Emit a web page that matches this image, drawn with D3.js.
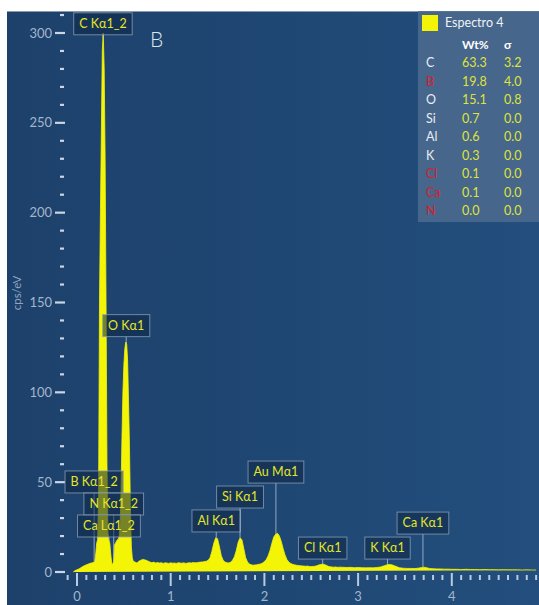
<!DOCTYPE html>
<html><head><meta charset="utf-8">
<script src="https://cdn.jsdelivr.net/npm/d3@7"></script>
<style>
html,body{margin:0;padding:0;background:#fff;}
svg{display:block;font-family:"Lato","Open Sans",sans-serif;}
</style></head>
<body>
<svg id="chart" width="539" height="605"></svg>
<script>
// ---------- DATA ----------
// spectrum: energy (keV) and counts (cps/eV)
const energy = [-0.04,-0.02,0.00,0.03,0.06,0.09,0.12,0.15,0.17,0.19,0.20,0.21,0.22,0.23,0.24,0.25,0.26,0.27,0.28,0.29,0.30,0.31,0.32,0.33,0.34,0.35,0.36,0.37,0.38,0.39,0.40,0.41,0.42,0.43,0.44,0.45,0.46,0.47,0.48,0.49,0.50,0.51,0.52,0.53,0.54,0.55,0.56,0.57,0.58,0.59,0.60,0.62,0.64,0.66,0.68,0.70,0.72,0.74,0.76,0.78,0.80,0.82,0.84,0.86,0.88,0.90,0.92,0.94,0.96,0.98,1.00,1.02,1.04,1.06,1.08,1.10,1.12,1.14,1.16,1.18,1.20,1.22,1.24,1.26,1.28,1.30,1.32,1.34,1.36,1.38,1.40,1.42,1.44,1.46,1.48,1.50,1.52,1.54,1.56,1.58,1.60,1.62,1.64,1.66,1.68,1.70,1.72,1.74,1.76,1.78,1.80,1.82,1.84,1.86,1.88,1.90,1.92,1.94,1.96,1.98,2.00,2.02,2.04,2.06,2.08,2.10,2.12,2.14,2.16,2.18,2.20,2.22,2.24,2.26,2.28,2.30,2.32,2.34,2.36,2.38,2.40,2.42,2.44,2.46,2.48,2.50,2.52,2.54,2.56,2.58,2.60,2.62,2.64,2.66,2.68,2.70,2.72,2.74,2.76,2.78,2.80,2.84,2.88,2.92,2.96,3.00,3.04,3.08,3.12,3.16,3.20,3.24,3.28,3.32,3.36,3.40,3.44,3.48,3.52,3.56,3.60,3.64,3.68,3.70,3.72,3.76,3.80,3.84,3.88,3.92,3.96,4.00,4.05,4.10,4.15,4.20,4.25,4.30,4.35,4.40,4.45,4.50,4.55,4.60,4.65,4.70,4.75,4.80,4.85,4.90,4.95];
const counts = [0,0.8,1.2,2,3,3.8,4.4,5,5.2,6,10,16,18,40,150,200,245,290,300,280,230,150,60,22,18,16,10,5,4,6,15,16,17,18,18,20,26,45,75,100,115,124,128,127,118,95,70,35,14,8,6,5.5,5,6,6.5,7,6.8,6.5,6,5.5,5.2,5.5,5,5.3,5,5.2,4.8,5.1,5,4.8,5.1,4.9,5,4.8,5.2,5,4.9,5.1,4.8,5,5.2,5,5.3,5.1,5.2,5.4,5.5,5.6,5.8,6,6.5,8,11.5,16,19,18.5,14,9,6.5,5.5,5.2,5,5.5,6.5,8.5,12,16.5,19,18,13,8,5.5,4.5,4,3.8,3.9,4,4.3,4.5,5,5.8,7,9,12,16,19.5,21,21.5,20,17,13,9.5,7,5.5,4.8,4.3,4,3.8,3.6,3.5,3.4,3.3,3.2,3.3,3.1,3,3.1,3.2,3.5,3.9,4.2,4.4,4.2,3.7,3.2,2.9,2.8,2.7,2.8,2.6,2.7,2.6,2.5,2.6,2.4,2.5,2.4,2.3,2.4,2.3,2.5,2.8,3.5,4.2,4,3.2,2.4,2.1,2,2,1.9,2.1,2.5,2.7,2.5,2,1.8,1.7,1.7,1.6,1.6,1.5,1.5,1.4,1.5,1.4,1.4,1.3,1.4,1.3,1.3,1.2,1.3,1.2,1.2,1.2,1.1,1.2,1.1,1.1];

// peak annotations
const peakNames    = ["C K\u03b11_2","O K\u03b11","B K\u03b11_2","N K\u03b11_2","Ca L\u03b11_2","Al K\u03b11","Si K\u03b11","Au M\u03b11","Cl K\u03b11","K K\u03b11","Ca K\u03b11"];
const peakEnergies = [0.277,0.525,0.183,0.392,0.341,1.486,1.740,2.123,2.622,3.314,3.692];
const labelLevels  = [299,131,44,31.7,19.5,22.3,35.6,49.5,7.2,7.2,21.1]; // cps of label box bottom

// quantification table
const elements = ["C","B","O","Si","Al","K","Cl","Ca","N"];
const wtPct    = ["63.3","19.8","15.1","0.7","0.6","0.3","0.1","0.1","0.0"];
const sigma    = ["3.2","4.0","0.8","0.0","0.0","0.0","0.0","0.0","0.0"];
const flagged  = [false,true,false,false,false,false,true,true,true];
const seriesName = "Espectro 4";
const panelLetter = "B";

// axes
const yMajor = [0,50,100,150,200,250,300];
const yMinor = d3.range(0,311,10);
const xMajor = [0,1,2,3,4];
const xMinor = d3.range(-1,50).map(d=>d/10);

// ---------- DRAW ----------
const svg = d3.select("#chart");
const W = 539, H = 605;
const defs = svg.append("defs");
const grad = defs.append("linearGradient").attr("id","bg").attr("x1","0").attr("x2","1").attr("y1","0").attr("y2","0");
grad.append("stop").attr("offset","0").attr("stop-color","#1d416b");
grad.append("stop").attr("offset","0.5").attr("stop-color","#1f4773");
grad.append("stop").attr("offset","1").attr("stop-color","#234e7d");
defs.append("clipPath").attr("id","clip").append("rect").attr("x",7).attr("y",11).attr("width",W-7).attr("height",H-11);

svg.append("rect").attr("x",7).attr("y",11).attr("width",W-7).attr("height",H-11).attr("fill","url(#bg)");
svg.append("line").attr("x1",7).attr("x2",W).attr("y1",11.5).attr("y2",11.5).attr("stroke","#8a9bb0").attr("stroke-width",1);

const x = d3.scaleLinear().domain([0,1]).range([77,170.7]);
const y = d3.scaleLinear().domain([0,300]).range([572,33]);

const g = svg.append("g").attr("clip-path","url(#clip)");

// y ticks
const tickCol = "#c9d6e6";
g.selectAll(".ymin").data(yMinor.filter(v=>!yMajor.includes(v))).join("line")
  .attr("x1",60).attr("x2",64).attr("y1",d=>y(d)).attr("y2",d=>y(d))
  .attr("stroke",tickCol).attr("stroke-width",2.2);
g.selectAll(".ymaj").data(yMajor).join("line")
  .attr("x1",55).attr("x2",65).attr("y1",d=>y(d)).attr("y2",d=>y(d))
  .attr("stroke",tickCol).attr("stroke-width",2.2);
g.selectAll(".ylab").data(yMajor).join("text")
  .attr("x",52).attr("y",d=>y(d)).attr("dy","0.35em").attr("text-anchor","end")
  .attr("fill","#a3b6cd").attr("font-size",13).text(d=>d);

// x ticks
g.selectAll(".xmin").data(xMinor.filter(v=>Math.abs(v-Math.round(v))>1e-6)).join("line")
  .attr("x1",d=>x(d)).attr("x2",d=>x(d)).attr("y1",575).attr("y2",580)
  .attr("stroke","#b7cbe2").attr("stroke-width",2);
g.selectAll(".xmaj").data(xMajor).join("line")
  .attr("x1",d=>x(d)).attr("x2",d=>x(d)).attr("y1",573).attr("y2",586)
  .attr("stroke","#b7cbe2").attr("stroke-width",2);
g.selectAll(".xlab").data(xMajor).join("text")
  .attr("x",d=>x(d)).attr("y",596).attr("dy","0.35em").attr("text-anchor","middle")
  .attr("fill","#a3b6cd").attr("font-size",13).text(d=>d);

// axis title
svg.append("text").attr("transform","translate(21,293) rotate(-90)").attr("text-anchor","middle")
  .attr("fill","#8ea6c2").attr("font-size",11.5).text("cps/eV");

// spectrum
const spec = energy.map((e,i)=>({e:e,c:counts[i]}));
const area = d3.area().x(d=>x(d.e)).y0(y(0)).y1(d=>y(d.c)).curve(d3.curveLinear);
g.append("path").datum(spec).attr("d",area).attr("fill","#f4f406").attr("stroke","#f4f406").attr("stroke-width",0.8);

// panel letter
svg.append("text").attr("x",150).attr("y",47).attr("fill","#dde5ee").attr("font-size",21).attr("font-weight",300).text(panelLetter);

// annotation boxes
const bis = d3.bisector(d=>d.e).left;
function valueAt(e){
  const i = Math.max(1,Math.min(spec.length-1,bis(spec,e)));
  const a = spec[i-1], b = spec[i];
  return a.c + (b.c-a.c)*(e-a.e)/(b.e-a.e);
}
const ann = g.append("g");
peakNames.forEach((name,i)=>{
  const px = x(peakEnergies[i]);
  const by = y(labelLevels[i]);
  const bh = 22;
  const t = ann.append("text").attr("font-size",12.5).attr("fill","#e4e52a").text(name);
  const tw = t.node().getComputedTextLength();
  const bw = tw + 11;
  const peakY = y(valueAt(peakEnergies[i]));
  const top = by - bh;
  ann.insert("line","text").attr("x1",px).attr("x2",px)
    .attr("y1", peakY < top ? top : by).attr("y2", peakY)
    .attr("stroke","#a8b8cb").attr("stroke-width",1).attr("opacity",0.85);
  ann.insert("rect","text").attr("x",px-bw/2).attr("y",top).attr("width",bw).attr("height",bh)
    .attr("fill","#0e2744").attr("fill-opacity",0.55)
    .attr("stroke","#8ea3bb").attr("stroke-opacity",0.75).attr("stroke-width",1);
  t.attr("x",px).attr("y",top+bh/2).attr("dy","0.35em").attr("text-anchor","middle");
  t.raise();
});

// legend / quantification table
const lg = svg.append("g");
lg.append("rect").attr("x",418).attr("y",11).attr("width",W-418).attr("height",211)
  .attr("fill","#4d6b8f").attr("fill-opacity",0.85);
lg.append("rect").attr("x",422).attr("y",15).attr("width",16).attr("height",16).attr("fill","#f4f406");
lg.append("text").attr("x",445).attr("y",23).attr("dy","0.35em").attr("fill","#eef2f7").attr("font-size",12.5).text(seriesName);
lg.append("text").attr("x",462).attr("y",45).attr("dy","0.35em").attr("fill","#ffffff").attr("font-size",12).attr("font-weight","bold").text("Wt%");
lg.append("text").attr("x",504).attr("y",45).attr("dy","0.35em").attr("fill","#ffffff").attr("font-size",12).attr("font-weight","bold").text("\u03c3");
const rowY = d3.scaleLinear().domain([0,8]).range([63,211]);
elements.forEach((el,i)=>{
  lg.append("text").attr("x",426).attr("y",rowY(i)).attr("dy","0.35em").attr("font-size",12.5)
    .attr("fill",flagged[i] ? "#d8202c" : "#e8edf3").text(el);
  lg.append("text").attr("x",462).attr("y",rowY(i)).attr("dy","0.35em").attr("font-size",12.5)
    .attr("fill","#dfe43a").text(wtPct[i]);
  lg.append("text").attr("x",504).attr("y",rowY(i)).attr("dy","0.35em").attr("font-size",12.5)
    .attr("fill","#dfe43a").text(sigma[i]);
});
</script>
</body></html>
